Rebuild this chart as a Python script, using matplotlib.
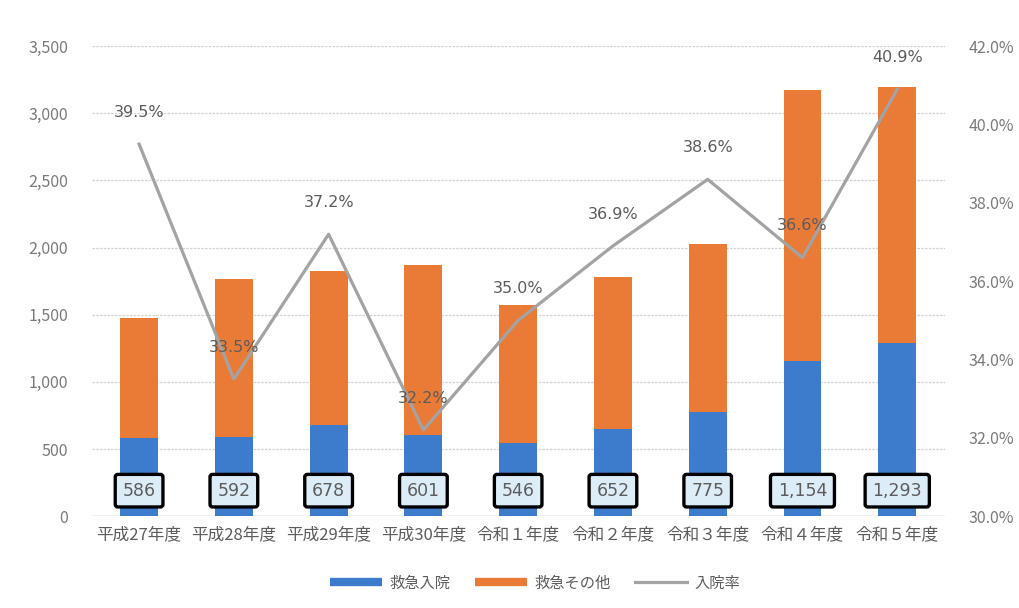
import matplotlib
matplotlib.use("Agg")
import matplotlib.pyplot as plt
from matplotlib.lines import Line2D
from matplotlib.ticker import FuncFormatter, MultipleLocator

plt.rcParams['font.family'] = ['Noto Sans CJK JP', 'DejaVu Sans']

categories = ["平成27年度", "平成28年度", "平成29年度", "平成30年度", "令和１年度",
              "令和２年度", "令和３年度", "令和４年度", "令和５年度"]
admitted = [586, 592, 678, 601, 546, 652, 775, 1154, 1293]
others = [893, 1175, 1150, 1268, 1024, 1130, 1250, 2020, 1900]
rate = [39.5, 33.5, 37.2, 32.2, 35.0, 36.9, 38.6, 36.6, 40.9]
rate_labels = ["39.5%", "33.5%", "37.2%", "32.2%", "35.0%", "36.9%", "38.6%", "36.6%", "40.9%"]
admit_labels = ["586", "592", "678", "601", "546", "652", "775", "1,154", "1,293"]

BLUE = "#3d7ccc"
ORANGE = "#e97b36"
GRAY = "#a3a3a3"
TXT = "#7a7a7a"
DTXT = "#5c5c5c"

fig = plt.figure(figsize=(10.19, 6.08), dpi=100)
ax = fig.add_axes([0.090, 0.151, 0.837, 0.773])
x = list(range(len(categories)))

ax.bar(x, admitted, width=0.4, color=BLUE, zorder=2)
ax.bar(x, others, width=0.4, bottom=admitted, color=ORANGE, zorder=2)

ax.set_xlim(-0.5, len(categories) - 0.5)
ax.set_ylim(0, 3500)
ax.yaxis.set_major_locator(MultipleLocator(500))
ax.yaxis.set_major_formatter(FuncFormatter(lambda v, p: f"{int(v):,}"))
ax.grid(axis='y', color="#d2d2d2", linestyle=(0, (2, 1)), linewidth=0.9, zorder=0)
for s in ax.spines.values():
    s.set_visible(False)
ax.axhline(0, color="#c8c8c8", linewidth=1, zorder=1)
ax.set_xticks(x)
ax.set_xticklabels(categories, fontsize=12, color=DTXT)
ax.tick_params(axis='x', length=0, pad=7)
ax.tick_params(axis='y', length=0, pad=17, labelsize=11.5, labelcolor=TXT)

for i, lab in zip(x, admit_labels):
    ax.text(i, 190, lab, ha='center', va='center', fontsize=12.5, color=DTXT,
            family=['DejaVu Sans'], zorder=5,
            bbox=dict(boxstyle="round,pad=0.42,rounding_size=0.15", fc="#ddedf8",
                      ec="black", lw=2.4))

ax2 = ax.twinx()
ax2.set_ylim(30, 42)
ax2.yaxis.set_major_locator(MultipleLocator(2))
ax2.yaxis.set_major_formatter(FuncFormatter(lambda v, p: f"{v:.1f}%"))
ax2.tick_params(axis='y', length=0, pad=17, labelsize=11.5, labelcolor=TXT)
for s in ax2.spines.values():
    s.set_visible(False)
ax2.plot(x, rate, color=GRAY, linewidth=2.3, zorder=3)
for i, r, lab in zip(x, rate, rate_labels):
    ax2.annotate(lab, (i, r), xytext=(0, 23), textcoords='offset points',
                 ha='center', va='center', fontsize=11.5, color=DTXT,
                 family=['DejaVu Sans'])

handles = [Line2D([], [], color=BLUE, lw=6, solid_capstyle='butt'),
           Line2D([], [], color=ORANGE, lw=6, solid_capstyle='butt'),
           Line2D([], [], color=GRAY, lw=2.3)]
fig.legend(handles, ["救急入院", "救急その他", "入院率"], loc='center',
           bbox_to_anchor=(0.525, 0.041), ncol=3, frameon=False, fontsize=11,
           handlelength=3.4, columnspacing=1.6, handletextpad=0.5, labelcolor=DTXT)

fig.savefig("out.png", dpi=100, facecolor='white')
